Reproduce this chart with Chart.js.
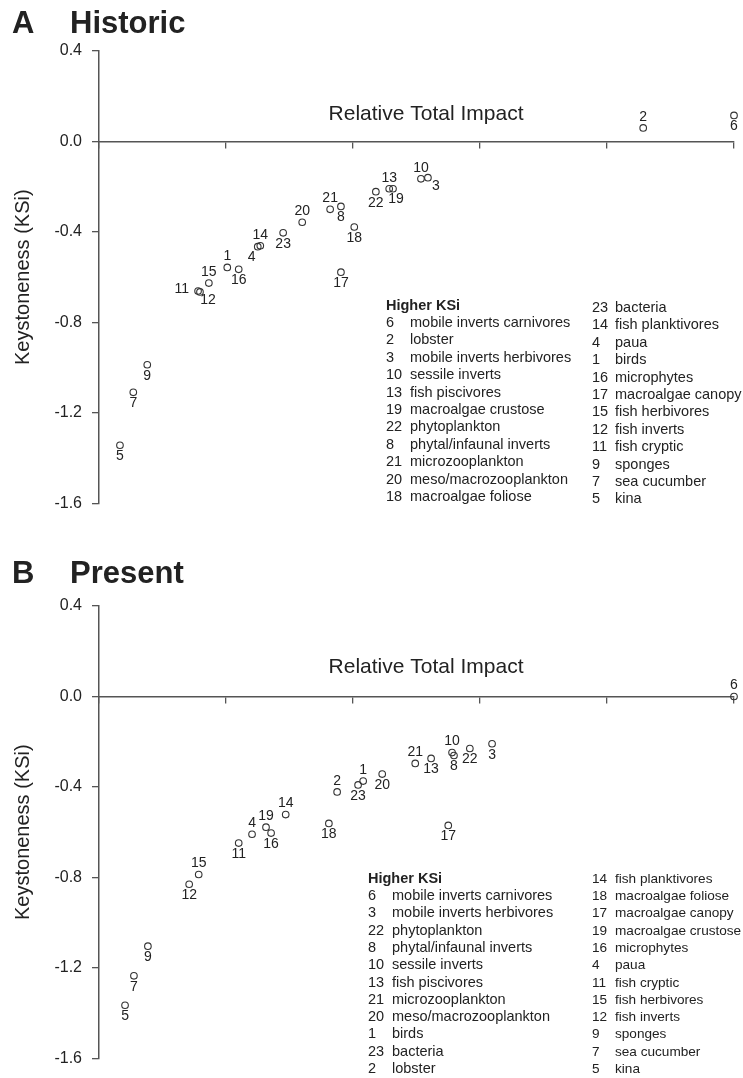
<!DOCTYPE html>
<html>
<head>
<meta charset="utf-8">
<script src="https://cdn.jsdelivr.net/npm/chart.js@4.4.1/dist/chart.umd.min.js"></script>
<style>
  body { margin: 0; background: #fff; }
  #wrap { position: relative; width: 743px; height: 1078px; }
  canvas { position: absolute; left: 0; }
</style>
</head>
<body>
<div id="wrap">
  <canvas id="historicChart" width="743" height="523" style="top:0"></canvas>
  <canvas id="presentChart" width="743" height="523" style="top:555px"></canvas>
</div>
<script>
// Functional groups, numbered 1..23
const groupIds = [1, 2, 3, 4, 5, 6, 7, 8, 9, 10, 11, 12, 13, 14, 15, 16, 17, 18, 19, 20, 21, 22, 23];
const groupNames = ['birds', 'lobster', 'mobile inverts herbivores', 'paua', 'kina',
  'mobile inverts carnivores', 'sea cucumber', 'phytal/infaunal inverts', 'sponges',
  'sessile inverts', 'fish cryptic', 'fish inverts', 'fish piscivores', 'fish planktivores',
  'fish herbivores', 'microphytes', 'macroalgae canopy', 'macroalgae foliose',
  'macroalgae crustose', 'meso/macrozooplankton', 'microzooplankton', 'phytoplankton', 'bacteria'];

// Historic: relative total impact (x) and keystoneness (y), by group id
const historicImpact = [0.202, 0.857, 0.518, 0.250, 0.033, 1.000, 0.054, 0.381, 0.076, 0.507,
  0.156, 0.159, 0.457, 0.254, 0.173, 0.220, 0.381, 0.402, 0.463, 0.320, 0.364, 0.436, 0.290];
const historicKSi = [-0.557, 0.060, -0.160, -0.465, -1.343, 0.115, -1.109, -0.287, -0.987, -0.165,
  -0.661, -0.665, -0.209, -0.461, -0.626, -0.565, -0.578, -0.378, -0.209, -0.357, -0.300, -0.222, -0.404];

// Present
const presentImpact = [0.416, 0.375, 0.619, 0.241, 0.041, 1.000, 0.055, 0.559, 0.077, 0.556,
  0.220, 0.142, 0.523, 0.294, 0.157, 0.271, 0.550, 0.362, 0.263, 0.446, 0.498, 0.584, 0.408];
const presentKSi = [-0.374, -0.422, -0.209, -0.609, -1.365, 0.000, -1.235, -0.261, -1.104, -0.248,
  -0.648, -0.830, -0.274, -0.522, -0.787, -0.604, -0.570, -0.561, -0.578, -0.343, -0.296, -0.230, -0.391];

// Legend order (higher KSi first)
const historicOrder = [6, 2, 3, 10, 13, 19, 22, 8, 21, 20, 18, 23, 14, 4, 1, 16, 17, 15, 12, 11, 9, 7, 5];
const presentOrder = [6, 3, 22, 8, 10, 13, 21, 20, 1, 23, 2, 14, 18, 17, 19, 16, 4, 11, 15, 12, 9, 7, 5];

const yMin = -1.6, yMax = 0.4, yStep = 0.4;
const xMin = 0, xMax = 1, xStep = 0.2;

// label placement around each point (style only)
const historicLabelPos = ['t', 't', 'br', 'bl', 'b', 'b', 'b', 'b', 'b', 't', 'l', 'br',
  't', 't', 't', 'b', 'b', 'b', 'br2', 't', 't', 'b', 'b'];
const presentLabelPos = ['t', 't', 'b', 't', 'b', 't', 'b', 'b', 'b', 't', 'b', 'b',
  'b', 't', 't', 'b', 'b', 'b', 't', 'b', 't', 'b', 'b'];
const labelOffsets = {
  t: [0, -11], b: [0, 11], br: [8, 8], br2: [3, 10], bl: [-6, 10], l: [-9, -2]
};

const fontFamily = "'Liberation Sans', Arial, Helvetica, sans-serif";
const textColor = '#222';
const axisColor = '#555';

const panelText = {
  id: 'panelText',
  afterDatasetsDraw(chart, args, opts) {
    const ctx = chart.ctx;
    const xs = chart.scales.x, ys = chart.scales.y;
    ctx.save();
    ctx.fillStyle = textColor;

    // panel letter + title
    ctx.font = 'bold 31px ' + fontFamily;
    ctx.textAlign = 'left';
    ctx.textBaseline = 'alphabetic';
    ctx.fillText(opts.letter, 12, opts.titleY);
    ctx.fillText(opts.title, 70, opts.titleY);

    // x axis caption sits above the zero line
    ctx.font = '21px ' + fontFamily;
    ctx.textAlign = 'center';
    ctx.textBaseline = 'middle';
    ctx.fillText('Relative Total Impact', xs.getPixelForValue(0.515), ys.getPixelForValue(opts.captionY));

    // numbers next to points
    ctx.font = '14px ' + fontFamily;
    const meta = chart.getDatasetMeta(0);
    meta.data.forEach((pt, i) => {
      const off = labelOffsets[opts.labelPos[i]];
      ctx.textAlign = opts.labelPos[i] === 'l' ? 'right' : 'center';
      ctx.fillText(String(groupIds[i]), pt.x + off[0], pt.y + off[1]);
    });

    // legend list
    const lg = opts.legend;
    ctx.textAlign = 'left';
    ctx.font = 'bold 14.5px ' + fontFamily;
    ctx.fillText('Higher KSi', lg.x1, lg.headerY);
    ctx.font = '14.5px ' + fontFamily;
    const col1 = lg.order.slice(0, 11), col2 = lg.order.slice(11);
    col1.forEach((id, k) => {
      const y = lg.col1Top + k * lg.rowH;
      ctx.fillText(String(id), lg.x1, y);
      ctx.fillText(groupNames[id - 1], lg.x1 + 24, y);
    });
    ctx.font = lg.col2Size + 'px ' + fontFamily;
    col2.forEach((id, k) => {
      const y = lg.col2Top + k * lg.rowH;
      ctx.fillText(String(id), lg.x2, y);
      ctx.fillText(groupNames[id - 1], lg.x2 + 23, y);
    });
    ctx.restore();
  }
};

function makePanel(canvasId, letter, title, titleY, impact, ksi, labelPos, captionY, legend) {
  const points = impact.map((v, i) => ({ x: v, y: ksi[i] }));
  return new Chart(document.getElementById(canvasId), {
    type: 'scatter',
    data: {
      datasets: [{
        data: points,
        pointRadius: 3.3,
        pointBorderWidth: 1.1,
        pointBorderColor: '#333',
        pointBackgroundColor: 'rgba(0,0,0,0)',
        clip: false
      }]
    },
    options: {
      responsive: false,
      animation: false,
      events: [],
      layout: { padding: { left: 0, right: 9, top: 51, bottom: 12 } },
      plugins: {
        legend: { display: false },
        tooltip: { enabled: false },
        panelText: { letter, title, titleY, labelPos, captionY, legend }
      },
      scales: {
        x: {
          type: 'linear',
          min: xMin, max: xMax,
          position: { y: 0 },
          ticks: { display: false, stepSize: xStep },
          grid: { drawOnChartArea: false, tickLength: 6, color: axisColor, lineWidth: 1.3 },
          border: { color: axisColor, width: 1.5 }
        },
        y: {
          min: yMin, max: yMax,
          ticks: {
            stepSize: yStep,
            padding: 10,
            color: textColor,
            font: { family: fontFamily, size: 16 },
            callback: v => Number(v).toFixed(1)
          },
          grid: { drawOnChartArea: false, tickLength: 7, color: axisColor, lineWidth: 1.3 },
          border: { color: axisColor, width: 1.5 },
          title: {
            display: true,
            text: 'Keystoneness (KSi)',
            color: textColor,
            font: { family: fontFamily, size: 20 },
            padding: { top: 11, bottom: 0 }
          },
          afterFit: s => { s.width = 99; }
        }
      }
    },
    plugins: [panelText]
  });
}

makePanel('historicChart', 'A', 'Historic', 33, historicImpact, historicKSi, historicLabelPos, 0.12, {
  order: historicOrder, x1: 386, x2: 592, headerY: 306, col1Top: 323, col2Top: 308, rowH: 17.4, col2Size: 14.5
});
makePanel('presentChart', 'B', 'Present', 28, presentImpact, presentKSi, presentLabelPos, 0.13, {
  order: presentOrder, x1: 368, x2: 592, headerY: 324, col1Top: 341, col2Top: 324, rowH: 17.3, col2Size: 13.6
});
</script>
</body>
</html>
